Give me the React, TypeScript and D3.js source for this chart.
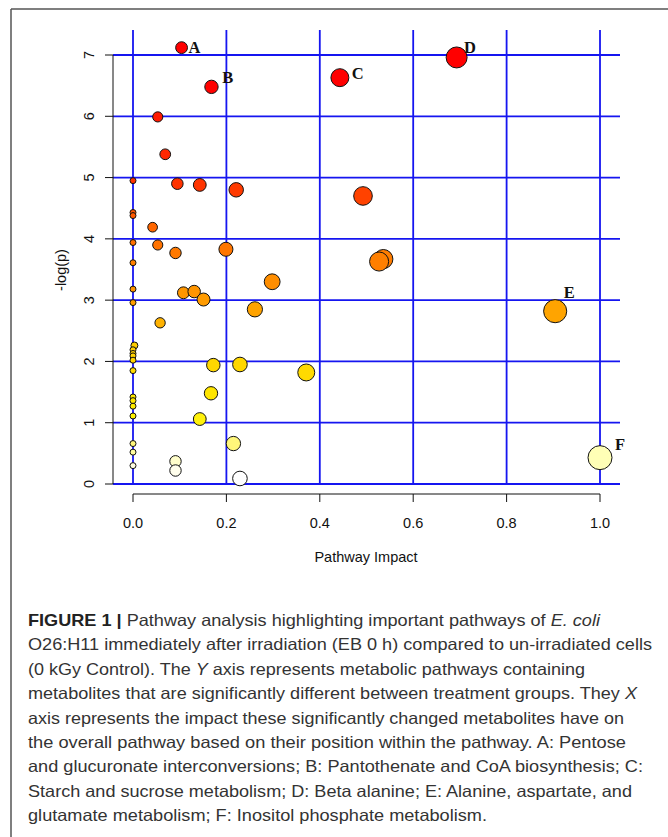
import React, { useEffect, useRef } from 'react'
import * as d3 from 'd3'

// pathway impact (x) and -log(p) (y), in drawing order
const impact = [
  0, 0, 0, 0, 0, 0, 0, 0.003, 0, 0, 0, 0, 0, 0, 0, 0, 0, 0, 0, 0,
  0.104, 0.168, 0.053, 0.069, 0.095, 0.143, 0.221, 0.042, 0.053, 0.091,
  0.199, 0.108, 0.131, 0.151, 0.261, 0.298, 0.058, 0.172, 0.229, 0.167,
  0.143, 0.215, 0.091, 0.091, 0.229, 0.443, 0.693, 0.4925, 0.536, 0.527,
  0.371, 0.904, 1.0,
]
const logP = [
  4.95, 4.43, 4.38, 3.94, 3.61, 3.18, 2.96, 2.26, 2.19, 2.13, 2.09, 2.02, 1.85, 1.42, 1.36, 1.27, 1.11, 0.66, 0.52, 0.30,
  7.12, 6.48, 5.99, 5.38, 4.90, 4.88, 4.80, 4.19, 3.90, 3.77,
  3.83, 3.12, 3.14, 3.01, 2.85, 3.30, 2.63, 1.94, 1.95, 1.48,
  1.06, 0.66, 0.37, 0.22, 0.09, 6.63, 6.96, 4.70, 3.67, 3.63,
  1.82, 2.82, 0.43,
]
const tags = [
  '', '', '', '', '', '', '', '', '', '', '', '', '', '', '', '', '', '', '', '',
  'A', 'B', '', '', '', '', '', '', '', '',
  '', '', '', '', '', '', '', '', '', '',
  '', '', '', '', '', 'C', 'D', '', '', '',
  '', 'E', 'F',
]

const xTicks = [0, 0.2, 0.4, 0.6, 0.8, 1.0]
const yTicks = [0, 1, 2, 3, 4, 5, 6, 7]

const captionLines = [
  [['FIGURE 1 |', 'b'], [' Pathway analysis highlighting important pathways of ', ''], ['E. coli', 'i']],
  [['O26:H11 immediately after irradiation (EB 0 h) compared to un-irradiated cells', '']],
  [['(0 kGy Control). The ', ''], ['Y', 'i'], [' axis represents metabolic pathways containing', '']],
  [['metabolites that are significantly different between treatment groups. They ', ''], ['X', 'i']],
  [['axis represents the impact these significantly changed metabolites have on', '']],
  [['the overall pathway based on their position within the pathway. A: Pentose', '']],
  [['and glucuronate interconversions; B: Pantothenate and CoA biosynthesis; C:', '']],
  [['Starch and sucrose metabolism; D: Beta alanine; E: Alanine, aspartate, and', '']],
  [['glutamate metabolism; F: Inositol phosphate metabolism.', '']],
]
const captionWidths = [572, 624, 557, 609, 596, 598, 615, 604, 459]

// small nudges for the letter labels (px)
const labelNudge: Record<string, [number, number]> = {
  A: [1, 0], B: [4, -9], C: [3, -4], D: [-3, -10], E: [-3, -19], F: [3, -13],
}

export default function App() {
  const ref = useRef<SVGSVGElement>(null)

  useEffect(() => {
    const svg = d3.select(ref.current)
    svg.selectAll('*').remove()

    const x = d3.scaleLinear().domain([0, 1]).range([133, 600])
    const y = d3.scaleLinear().domain([0, 7]).range([484, 55])
    const r = d3.scaleSqrt().domain([0, 1]).range([3, 12])
    const color = d3.scaleLinear<string>()
      .domain([0.1, 0.3, 0.45, 0.7, 1.1, 1.9, 2.3, 2.8, 3.6, 4.2, 4.9, 6.0, 6.5])
      .range(['#ffffff', '#fffde0', '#ffffb0', '#fff570', '#fff000', '#ffd800', '#ffcc00',
        '#ffa500', '#ff8000', '#ff6600', '#ff3300', '#ff1a00', '#ff0000'])
      .clamp(true)

    const plotLeft = 113, plotRight = 620, plotTop = 30

    // frame of the figure
    svg.append('line').attr('x1', 11).attr('x2', 668).attr('y1', 9).attr('y2', 9)
      .attr('stroke', '#555').attr('stroke-width', 1.5)
    svg.append('line').attr('x1', 11).attr('x2', 11).attr('y1', 9).attr('y2', 837)
      .attr('stroke', '#555').attr('stroke-width', 1.5)

    // grid
    const grid = svg.append('g').attr('stroke', '#1515f0').attr('stroke-width', 1.8)
    grid.selectAll('.v').data(xTicks).join('line')
      .attr('x1', d => x(d)).attr('x2', d => x(d))
      .attr('y1', plotTop).attr('y2', y(0))
    grid.selectAll('.h').data(yTicks).join('line')
      .attr('x1', plotLeft).attr('x2', plotRight)
      .attr('y1', d => y(d)).attr('y2', d => y(d))

    // y axis
    const ya = svg.append('g').attr('stroke', '#111').attr('stroke-width', 1)
    ya.append('line').attr('x1', plotLeft).attr('x2', plotLeft).attr('y1', y(7)).attr('y2', y(0))
    ya.selectAll('.t').data(yTicks).join('line')
      .attr('x1', plotLeft - 8).attr('x2', plotLeft).attr('y1', d => y(d)).attr('y2', d => y(d))
    svg.append('g').selectAll('text').data(yTicks).join('text')
      .attr('transform', d => `translate(93.5,${y(d)}) rotate(-90)`)
      .attr('text-anchor', 'middle')
      .style('font-family', 'Liberation Sans, Arial, sans-serif').style('font-size', '14.5px')
      .attr('fill', '#111')
      .text(d => d)

    // x axis
    const xa = svg.append('g').attr('stroke', '#111').attr('stroke-width', 1)
    xa.append('line').attr('x1', x(0)).attr('x2', x(1)).attr('y1', 494).attr('y2', 494)
    xa.selectAll('.t').data(xTicks).join('line')
      .attr('x1', d => x(d)).attr('x2', d => x(d)).attr('y1', 494).attr('y2', 502)
    svg.append('g').selectAll('text').data(xTicks).join('text')
      .attr('x', d => x(d)).attr('y', 528)
      .attr('text-anchor', 'middle')
      .style('font-family', 'Liberation Sans, Arial, sans-serif').style('font-size', '14.5px')
      .attr('fill', '#111')
      .text(d => d3.format('.1f')(d))

    svg.append('text').attr('x', 366).attr('y', 562).attr('text-anchor', 'middle')
      .style('font-family', 'Liberation Sans, Arial, sans-serif').style('font-size', '14.5px')
      .attr('fill', '#111').text('Pathway Impact')
    svg.append('text').attr('transform', 'translate(66,270) rotate(-90)').attr('text-anchor', 'middle')
      .style('font-family', 'Liberation Sans, Arial, sans-serif').style('font-size', '14.5px')
      .attr('fill', '#111').text('-log(p)')

    // points
    const idx = d3.range(impact.length)
    svg.append('g').selectAll('circle').data(idx).join('circle')
      .attr('cx', i => x(impact[i])).attr('cy', i => y(logP[i]))
      .attr('r', i => r(impact[i]))
      .attr('fill', i => color(logP[i]))
      .attr('stroke', '#111').attr('stroke-width', 1)

    // letter labels
    svg.append('g').selectAll('text').data(idx.filter(i => tags[i])).join('text')
      .attr('x', i => x(impact[i]) + r(impact[i]) + labelNudge[tags[i]][0])
      .attr('y', i => y(logP[i]) + labelNudge[tags[i]][1] + 5.5)
      .style('font-family', 'Liberation Serif, Times New Roman, serif')
      .style('font-size', '16.5px').style('font-weight', 'bold')
      .attr('fill', '#111')
      .text(i => tags[i])

    // caption
    const cap = svg.append('g')
      .style('font-family', 'Liberation Sans, Arial, sans-serif').style('font-size', '16.5px')
      .attr('fill', '#333')
    captionLines.forEach((parts, li) => {
      const t = cap.append('text').attr('x', 28).attr('y', 626 + li * 24.4)
        .attr('textLength', captionWidths[li]).attr('lengthAdjust', 'spacingAndGlyphs')
      parts.forEach(([s, f]) => {
        t.append('tspan')
          .style('font-weight', f === 'b' ? 'bold' : 'normal')
          .style('font-style', f === 'i' ? 'italic' : 'normal')
          .attr('fill', f === 'b' ? '#222' : '#333')
          .text(s)
      })
    })
  }, [])

  return (
    <svg ref={ref} width={668} height={837}
      style={{ position: 'absolute', left: 0, top: 0, background: '#fff' }} />
  )
}
